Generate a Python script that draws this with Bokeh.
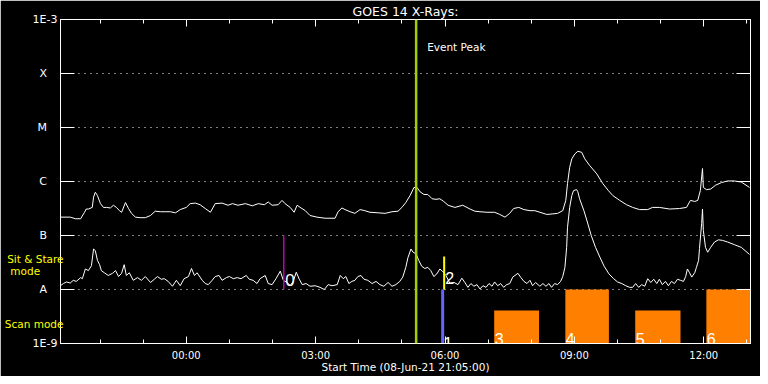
import numpy as np
from bokeh.plotting import figure
from bokeh.models import Range1d, FixedTicker, LinearAxis, LogAxis, Span, Label
from bokeh.embed import file_html
from bokeh.resources import INLINE

# ---------------- data (time = hours since 08-Jun-21 00:00 UT) ----------------
start_hour = 21 + 5 / 60.0
end_hour = start_hour + 16.0

long_time = [21.08, 21.31, 21.43, 21.55, 21.64, 21.68, 21.73, 21.82, 21.85, 21.89, 21.94, 22.01,
             22.08, 22.15, 22.24, 22.31, 22.38, 22.45, 22.50, 22.59, 22.66, 22.73, 22.82, 22.93,
             23.05, 23.17, 23.28, 23.40, 23.51, 23.63, 23.75, 23.86, 24.00, 24.09, 24.21, 24.32,
             24.44, 24.56, 24.67, 24.83, 24.97, 25.07, 25.20, 25.37, 25.53, 25.67, 25.81, 25.90,
             25.99, 26.13, 26.22, 26.29, 26.41, 26.50, 26.57, 26.66, 26.76, 26.87, 27.03, 27.22,
             27.45, 27.52, 27.61, 27.68, 27.80, 27.91, 28.03, 28.14, 28.26, 28.45, 28.61, 28.77,
             28.91, 29.00, 29.09, 29.19, 29.28, 29.35, 29.42, 29.51, 29.60, 29.70, 29.79, 29.88,
             29.97, 30.07, 30.23, 30.41, 30.58, 30.69, 30.81, 30.97, 31.15, 31.27, 31.39, 31.50,
             31.59, 31.71, 31.83, 31.97, 32.08, 32.20, 32.36, 32.50, 32.61, 32.73, 32.80, 32.84,
             32.89, 32.94, 33.01, 33.08, 33.17, 33.24, 33.35, 33.52, 33.66, 33.79, 33.89, 34.05,
             34.21, 34.35, 34.51, 34.70, 34.81, 34.97, 35.21, 35.44, 35.60, 35.69, 35.79, 35.86,
             35.92, 35.97, 35.99, 36.06, 36.16, 36.27, 36.41, 36.55, 36.71, 36.87, 37.06]
long_log_flux = [-6.66, -6.66, -6.69, -6.69, -6.57, -6.51, -6.51, -6.48, -6.29, -6.20, -6.26, -6.41,
                 -6.48, -6.48, -6.49, -6.44, -6.48, -6.54, -6.57, -6.39, -6.50, -6.59, -6.66, -6.67,
                 -6.67, -6.63, -6.55, -6.56, -6.56, -6.56, -6.58, -6.52, -6.48, -6.41, -6.40, -6.43,
                 -6.50, -6.57, -6.41, -6.40, -6.44, -6.41, -6.44, -6.41, -6.45, -6.41, -6.43, -6.38,
                 -6.44, -6.43, -6.35, -6.41, -6.48, -6.57, -6.44, -6.49, -6.54, -6.63, -6.66, -6.68,
                 -6.68, -6.56, -6.49, -6.52, -6.56, -6.59, -6.52, -6.54, -6.57, -6.58, -6.59, -6.56,
                 -6.55, -6.48, -6.39, -6.26, -6.11, -6.11, -6.19, -6.24, -6.24, -6.32, -6.33, -6.32,
                 -6.37, -6.44, -6.48, -6.44, -6.51, -6.55, -6.56, -6.57, -6.57, -6.61, -6.66, -6.59,
                 -6.50, -6.48, -6.52, -6.54, -6.54, -6.57, -6.61, -6.60, -6.59, -6.54, -6.35, -6.04,
                 -5.74, -5.58, -5.49, -5.44, -5.46, -5.58, -5.70, -5.86, -6.04, -6.17, -6.26, -6.35,
                 -6.43, -6.48, -6.52, -6.52, -6.48, -6.48, -6.51, -6.50, -6.48, -6.35, -6.37, -6.35,
                 -6.17, -5.76, -6.11, -6.15, -6.14, -6.07, -6.02, -5.99, -5.99, -6.01, -6.11]

short_time = [21.08, 21.15, 21.22, 21.31, 21.38, 21.45, 21.55, 21.59, 21.66, 21.73, 21.80, 21.85,
              21.89, 21.94, 21.99, 22.03, 22.10, 22.19, 22.29, 22.36, 22.43, 22.50, 22.56, 22.61,
              22.68, 22.77, 22.87, 22.96, 23.05, 23.17, 23.26, 23.33, 23.42, 23.49, 23.58, 23.68,
              23.77, 23.86, 23.95, 24.05, 24.12, 24.19, 24.25, 24.37, 24.44, 24.51, 24.60, 24.67,
              24.76, 24.83, 24.93, 25.00, 25.09, 25.18, 25.27, 25.39, 25.46, 25.55, 25.64, 25.71,
              25.83, 25.90, 25.99, 26.08, 26.18, 26.25, 26.34, 26.41, 26.48, 26.55, 26.62, 26.69,
              26.78, 26.87, 26.99, 27.10, 27.20, 27.29, 27.38, 27.50, 27.57, 27.64, 27.70, 27.77,
              27.84, 27.91, 27.98, 28.05, 28.12, 28.21, 28.31, 28.40, 28.49, 28.58, 28.68, 28.77,
              28.86, 28.95, 29.02, 29.09, 29.14, 29.21, 29.26, 29.33, 29.39, 29.46, 29.53, 29.60,
              29.67, 29.74, 29.81, 29.88, 29.95, 30.02, 30.11, 30.21, 30.30, 30.39, 30.46, 30.53,
              30.60, 30.67, 30.74, 30.81, 30.88, 30.95, 31.02, 31.09, 31.15, 31.22, 31.29, 31.36,
              31.43, 31.50, 31.57, 31.69, 31.76, 31.83, 31.90, 31.97, 32.03, 32.10, 32.20, 32.27,
              32.34, 32.41, 32.47, 32.54, 32.61, 32.68, 32.73, 32.78, 32.82, 32.84, 32.89, 32.94,
              32.98, 33.05, 33.08, 33.12, 33.22, 33.30, 33.39, 33.49, 33.59, 33.69, 33.80, 33.91,
              34.00, 34.10, 34.19, 34.28, 34.35, 34.42, 34.49, 34.56, 34.63, 34.70, 34.77, 34.84,
              34.91, 34.97, 35.04, 35.11, 35.18, 35.25, 35.32, 35.39, 35.46, 35.53, 35.58, 35.62,
              35.67, 35.72, 35.79, 35.83, 35.88, 35.90, 35.95, 35.97, 35.99, 36.04, 36.09, 36.16,
              36.25, 36.34, 36.43, 36.55, 36.71, 36.87, 37.06]
short_log_flux = [-7.93, -7.89, -7.86, -7.88, -7.83, -7.85, -7.78, -7.80, -7.62, -7.65, -7.56, -7.25,
                  -7.28, -7.46, -7.54, -7.65, -7.69, -7.74, -7.70, -7.65, -7.76, -7.70, -7.54, -7.74,
                  -7.69, -7.83, -7.78, -7.83, -7.76, -7.87, -7.81, -7.76, -7.81, -7.80, -7.85, -7.94,
                  -7.83, -7.93, -7.80, -7.76, -7.61, -7.74, -7.69, -7.83, -7.89, -7.91, -7.83, -7.76,
                  -7.74, -7.83, -7.78, -7.76, -7.80, -7.78, -7.80, -7.74, -7.81, -7.83, -7.89, -7.80,
                  -7.74, -7.89, -7.91, -7.80, -7.66, -7.83, -7.87, -7.93, -7.85, -7.68, -7.81, -7.91,
                  -7.89, -7.94, -7.93, -7.96, -8.00, -7.91, -7.93, -7.91, -7.74, -7.80, -7.76, -7.89,
                  -7.85, -7.83, -7.76, -7.74, -7.81, -7.83, -7.89, -7.85, -7.91, -7.94, -7.87, -7.94,
                  -7.91, -7.85, -7.77, -7.59, -7.41, -7.25, -7.31, -7.34, -7.46, -7.57, -7.61, -7.59,
                  -7.65, -7.76, -7.71, -7.62, -7.67, -7.74, -7.88, -7.87, -7.91, -7.79, -7.87, -7.96,
                  -7.89, -7.94, -7.91, -7.99, -7.93, -7.96, -7.89, -7.94, -7.86, -7.93, -7.89, -7.96,
                  -7.91, -7.89, -7.77, -7.70, -7.78, -7.85, -7.89, -7.83, -7.93, -7.87, -7.94, -7.89,
                  -7.94, -7.89, -7.96, -7.89, -7.91, -7.85, -7.76, -7.59, -7.22, -6.85, -6.48, -6.26,
                  -6.17, -6.15, -6.19, -6.32, -6.54, -6.75, -7.00, -7.22, -7.40, -7.57, -7.71, -7.80,
                  -7.86, -7.89, -7.93, -7.96, -7.96, -7.89, -7.96, -7.91, -7.94, -7.80, -7.87, -7.81,
                  -7.89, -7.81, -7.91, -7.85, -7.93, -7.85, -7.89, -7.81, -7.83, -7.85, -7.76, -7.62,
                  -7.69, -7.77, -7.69, -7.59, -7.46, -7.24, -6.78, -6.51, -6.91, -7.22, -7.31, -7.22,
                  -7.12, -7.08, -7.09, -7.12, -7.17, -7.22, -7.35]

tick_hours = [24, 27, 30, 33, 36]
tick_labels = ["00:00", "03:00", "06:00", "09:00", "12:00"]
minor_hours = list(range(22, 38))

class_levels = [1e-9, 1e-8, 1e-7, 1e-6, 1e-5, 1e-4, 1e-3]
class_labels = ["1E-9", "A", "B", "C", "M", "X", "1E-3"]

mode_texts = ["Scan mode", "mode", "Sit & Stare"]

event_peak_hour = 29.33

# markers 0,1,2
marker0_hour, marker0_bottom, marker0_top = 26.26, 1e-8, 1e-7
marker1_start, marker1_end, marker1_bottom, marker1_top = 29.91, 29.98, 1e-9, 1e-8
marker2_hour, marker2_bottom, marker2_top = 29.98, 1e-8, 4.1e-8

# observation windows 3..6
obs_labels = ["3", "4", "5", "6"]
obs_start = [31.14, 32.79, 34.41, 36.06]
obs_end = [32.18, 33.80, 35.46, 37.08]
obs_top = [4.1e-9, 1e-8, 4.1e-9, 1e-8]

# ---------------- figure ----------------
FONT = "DejaVu Sans"
NBSP = "\u00a0"

p = figure(width=760, height=376, x_range=Range1d(start_hour, end_hour),
           y_range=Range1d(1e-9, 1e-3), y_axis_type="log",
           output_backend="svg", toolbar_location=None,
           background_fill_color="black", border_fill_color="black",
           min_border_left=60, min_border_right=10, min_border_top=19, min_border_bottom=33,
           outline_line_color="white", outline_line_width=1)
p.grid.visible = False

p.title.text = "GOES 14 X-Rays:"
p.title.align = "center"
p.title.text_color = "white"
p.title.text_font = FONT
p.title.text_font_size = "12.5px"
p.title.text_font_style = "normal"
p.title.standoff = 2


def style_time_axis(ax, labels=True):
    ax.ticker = FixedTicker(ticks=tick_hours, minor_ticks=minor_hours)
    ax.major_tick_in = 7
    ax.major_tick_out = 0
    ax.minor_tick_in = 4
    ax.minor_tick_out = 0
    ax.axis_line_color = "white"
    ax.major_tick_line_color = "white"
    ax.minor_tick_line_color = "white"
    if labels:
        ax.major_label_overrides = dict(zip(tick_hours, tick_labels))
        ax.major_label_text_color = "white"
        ax.major_label_text_font = FONT
        ax.major_label_text_font_size = "10px"
        ax.major_label_standoff = 6
    else:
        ax.major_label_overrides = {h: "" for h in tick_hours}
        ax.major_label_text_font_size = "0px"
        ax.major_label_standoff = 0


xa = p.xaxis[0]
style_time_axis(xa)
xa.axis_label = "Start Time (08-Jun-21 21:05:00)"
xa.axis_label_text_color = "white"
xa.axis_label_text_font = FONT
xa.axis_label_text_font_style = "normal"
xa.axis_label_text_font_size = "10.5px"
xa.axis_label_standoff = -3

top_axis = LinearAxis()
style_time_axis(top_axis, labels=False)
p.add_layout(top_axis, "above")


def style_flux_ticks(ax):
    ax.ticker = FixedTicker(ticks=class_levels)
    ax.major_tick_in = 14
    ax.major_tick_out = 0
    ax.minor_tick_in = 0
    ax.minor_tick_out = 0
    ax.axis_line_color = "white"
    ax.major_tick_line_color = "white"


# left axis: ticks + class labels (letters padded so they sit left of the numbers)
ya = p.yaxis[0]
style_flux_ticks(ya)
ya.major_label_overrides = {v: (t if t.startswith("1E") else t + NBSP * 3)
                            for v, t in zip(class_levels, class_labels)}
ya.major_label_standoff = 3
ya.major_label_text_color = "white"
ya.major_label_text_font = FONT
ya.major_label_text_font_size = "11px"

right_axis = LogAxis()
style_flux_ticks(right_axis)
right_axis.major_label_overrides = {v: "" for v in class_levels}
right_axis.major_label_text_font_size = "0px"
right_axis.major_label_standoff = 0
p.add_layout(right_axis, "right")

# yellow mode texts, on a tick-less axis outside the class labels
mode_pos = [2.33e-9, 2.16e-8, 3.69e-8]
mode_lbl = [mode_texts[0], mode_texts[1] + NBSP * 7, mode_texts[2]]
mode_axis = LogAxis(ticker=FixedTicker(ticks=mode_pos),
                    major_label_overrides=dict(zip(mode_pos, mode_lbl)),
                    major_tick_line_color=None, minor_tick_line_color=None,
                    axis_line_color=None, major_label_standoff=-40,
                    major_label_text_color="#ffff00", major_label_text_font=FONT,
                    major_label_text_font_size="10.5px")
p.add_layout(mode_axis, "left")

# dotted level lines
for lvl in class_levels[1:-1]:
    p.add_layout(Span(location=lvl, dimension="width", line_color="white",
                      line_dash="1 5", line_width=1, level="underlay"))

# curves
p.line(long_time, 10 ** np.array(long_log_flux), line_color="white", line_width=1)
p.line(short_time, 10 ** np.array(short_log_flux), line_color="white", line_width=1)

# observation windows
p.quad(left=obs_start, right=obs_end, bottom=[1e-9] * len(obs_start), top=obs_top,
       fill_color="#ff8000", line_color=None)

# markers
p.segment(x0=[marker0_hour], y0=[marker0_bottom], x1=[marker0_hour], y1=[marker0_top],
          line_color="#c000c0", line_width=1.5)
p.quad(left=[marker1_start], right=[marker1_end], bottom=[marker1_bottom], top=[marker1_top],
       fill_color="#6464ff", line_color=None)
p.segment(x0=[marker2_hour], y0=[marker2_bottom], x1=[marker2_hour], y1=[marker2_top],
          line_color="#ffff00", line_width=2)

# event peak line
p.add_layout(Span(location=event_peak_hour, dimension="height", line_color="#a0d000",
                  line_width=2.5))

# ---------------- texts inside the frame ----------------
def lab(**kw):
    base = dict(text_color="white", text_font=FONT, text_font_size="10px")
    base.update(kw)
    p.add_layout(Label(**base))


lab(x=event_peak_hour, y=1e-3, text="Event Peak", text_align="left", text_baseline="alphabetic",
    x_offset=11, y_offset=-27.8, text_font_size="10.5px")

DIG = "Liberation Sans"
lab(x=marker0_hour, y=1e-8, text="0", text_align="left", text_baseline="alphabetic",
    x_offset=1.5, y_offset=9.5, text_font=DIG, text_font_size="17px")
lab(x=marker2_hour, y=1e-8, text="2", text_align="left", text_baseline="alphabetic",
    x_offset=1, y_offset=11.5, text_font=DIG, text_font_size="16px")
lab(x=marker2_hour, y=1e-9, text="1", text_align="left", text_baseline="alphabetic",
    x_offset=-1, y_offset=0.6, text_font=DIG, text_font_size="17px")
for s, t in zip(obs_start, obs_labels):
    lab(x=s, y=1e-9, text=t, text_align="left", text_baseline="alphabetic",
        x_offset=0.5, y_offset=4.6, text_font=DIG, text_font_size="16px")

open("out.html", "w").write(file_html(p, INLINE))
